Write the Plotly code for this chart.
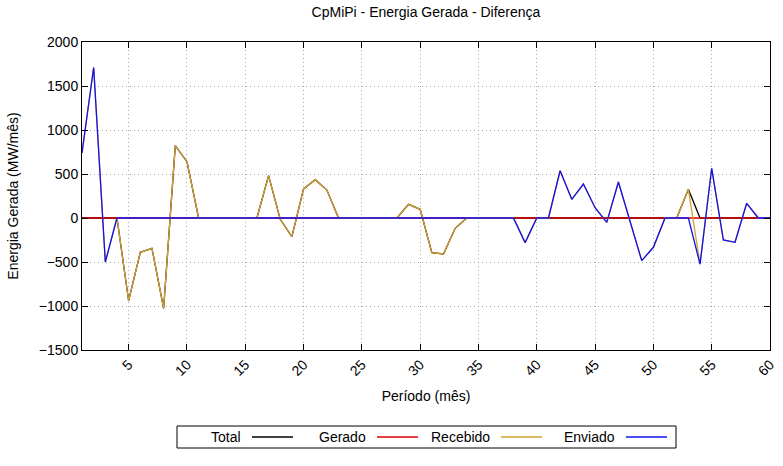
import plotly.graph_objects as go

# Meses 1..60
periodo = list(range(1, 61))

total = [0, 0, 0, 0, -940, -390, -345, -1026, 822, 640,
         0, 0, 0, 0, 0, 0, 481, -15, -212, 330,
         435, 318, 0, 0, 0, 0, 0, 0, 155, 99,
         -394, -409, -117, 0, 0, 0, 0, 0, 0, 0,
         0, 0, 0, 0, 0, 0, 0, 0, 0, 0,
         0, 0, 326, 0, 0, 0, 0, 0, 0, 0]

gerado = [0] * 60

recebido = [740, 1710, -500, 0, -940, -390, -345, -1026, 822, 640,
            0, 0, 0, 0, 0, 0, 481, -15, -212, 330,
            435, 318, 0, 0, 0, 0, 0, 0, 155, 99,
            -394, -409, -117, 0, 0, 0, 0, 0, -280, 0,
            0, 537, 212, 386, 117, -49, 409, -42, -485, -333,
            0, 0, 326, -525, 565, -250, -276, 167, 0, 0]

enviado = [740, 1710, -500, 0, 0, 0, 0, 0, 0, 0,
           0, 0, 0, 0, 0, 0, 0, 0, 0, 0,
           0, 0, 0, 0, 0, 0, 0, 0, 0, 0,
           0, 0, 0, 0, 0, 0, 0, 0, -280, 0,
           0, 537, 212, 386, 117, -49, 409, -42, -485, -333,
           0, 0, 0, -525, 565, -250, -276, 167, 0, 0]

series_names = ['Total', 'Gerado', 'Recebido', 'Enviado']
series_colors = ['#000000', '#e00000', '#d4a030', '#1010f0']
series_data = [total, gerado, recebido, enviado]

y_ticks = [-1500, -1000, -500, 0, 500, 1000, 1500, 2000]
x_ticks = list(range(5, 61, 5))

FONT = 'Liberation Sans, Arial, sans-serif'
FS = 14

# plot area in pixels (gnuplot-like layout)
W, H = 783, 466
L, R, T, B = 82, 770, 42, 350


def px(x):
    return (x - L) / (R - L)


def py(y):
    return (B - y) / (B - T)


fig = go.Figure()
for name, color, vals in zip(series_names, series_colors, series_data):
    fig.add_trace(go.Scatter(x=periodo, y=vals, mode='lines', name=name,
                             line=dict(color=color, width=1.3), showlegend=False))

axis_common = dict(showline=True, linecolor='black', linewidth=1, mirror='allticks',
                   ticks='inside', ticklen=6, tickcolor='black', zeroline=False,
                   showgrid=True, gridcolor='#a8a8a8', griddash='1px,3px', gridwidth=1,
                   automargin=False,
                   tickfont=dict(family=FONT, size=FS, color='black'))

fig.update_xaxes(range=[1, 60], tickvals=x_ticks, tickangle=-45,
                 title=dict(text='Período (mês)', font=dict(family=FONT, size=FS, color='black'),
                            standoff=13),
                 **axis_common)
fig.update_yaxes(range=[-1500, 2000], tickvals=y_ticks,
                 title=dict(text='Energia Gerada (MW/mês)', font=dict(family=FONT, size=FS, color='black'),
                            standoff=16),
                 **axis_common)

# legend in gnuplot style: text, then sample line, inside a box
legend_text_right = [243, 368, 492, 617]
legend_line = [(252, 293), (377, 418), (501, 542), (626, 667)]
ly = 437
fig.add_shape(type='rect', xref='paper', yref='paper',
              x0=px(177), x1=px(676), y0=py(448), y1=py(426),
              line=dict(color='black', width=1))
for name, color, tx, (l0, l1) in zip(series_names, series_colors, legend_text_right, legend_line):
    fig.add_annotation(text=name, xref='paper', yref='paper', x=px(tx), y=py(ly),
                       xanchor='right', yanchor='middle', showarrow=False,
                       font=dict(family=FONT, size=FS, color='black'))
    fig.add_shape(type='line', xref='paper', yref='paper',
                  x0=px(l0), x1=px(l1), y0=py(ly), y1=py(ly),
                  line=dict(color=color, width=1.3))

fig.update_layout(
    width=W, height=H,
    margin=dict(l=L, r=W - R, t=T, b=H - B, autoexpand=False),
    paper_bgcolor='white', plot_bgcolor='white',
    title=dict(text='CpMiPi - Energia Gerada - Diferença', x=px(426), xanchor='center',
               xref='paper', y=1 - 12 / H, yanchor='middle',
               font=dict(family=FONT, size=FS, color='black')),
)

# remove the default page margin so the figure sits at the window corner
fig.write_html("out.html", config={'displayModeBar': False},
               post_script="document.body.style.margin='0';")
